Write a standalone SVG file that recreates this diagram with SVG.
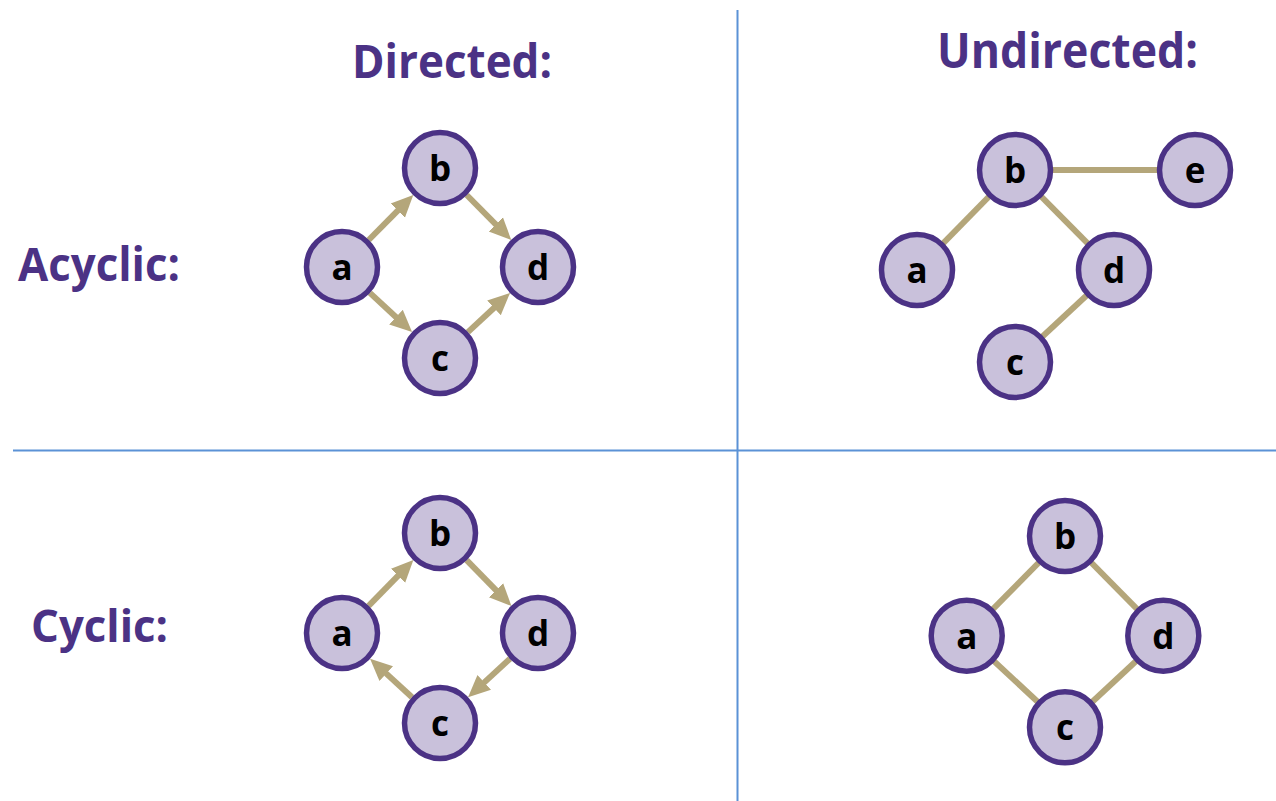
<svg xmlns="http://www.w3.org/2000/svg" width="1276" height="801" viewBox="0 0 1276 801">
<style>
.hdr{font-family:"Open Sans","Liberation Sans",sans-serif;font-weight:bold;fill:#4b3285}
.node circle{fill:#c9c1db;stroke:#4b3285;stroke-width:5.5}
.node text{font-family:"Open Sans","Liberation Sans",sans-serif;font-weight:bold;font-size:35px;fill:#000;text-anchor:middle}
.edge{stroke:#b4a67a;stroke-width:6;fill:none}
.arrow{stroke:#b4a67a;stroke-width:6;fill:none;marker-end:url(#ah)}
.div{stroke:#5b92d6;stroke-width:2}
</style>
<defs>
<marker id="ah" markerUnits="userSpaceOnUse" viewBox="0 -11 23 22" refX="1" refY="0" markerWidth="23" markerHeight="22" orient="auto">
<path d="M0,-10 L22,0 L0,10 z" fill="#b4a67a"/>
</marker>
</defs>
<rect width="1276" height="801" fill="#fff"/>
<g id="dividers">
<line class="div" x1="737.5" y1="10" x2="737.5" y2="801"/>
<line class="div" x1="13" y1="450.5" x2="1276" y2="450.5"/>
</g>
<g id="labels">
<text class="hdr" x="352" y="78" font-size="47" textLength="200" lengthAdjust="spacingAndGlyphs">Directed:</text>
<text class="hdr" x="937" y="68" font-size="49" textLength="261" lengthAdjust="spacingAndGlyphs">Undirected:</text>
<text class="hdr" x="18" y="281" font-size="46" textLength="162" lengthAdjust="spacingAndGlyphs">Acyclic:</text>
<text class="hdr" x="31" y="642" font-size="45" textLength="137" lengthAdjust="spacingAndGlyphs">Cyclic:</text>
</g>
<g id="connectors">
<line class="arrow" x1="368.7" y1="240.0" x2="398.5" y2="209.9"/>
<line class="arrow" x1="466.7" y1="195.0" x2="496.5" y2="225.1"/>
<line class="arrow" x1="369.9" y1="292.9" x2="396.7" y2="317.8"/>
<line class="arrow" x1="467.9" y1="332.1" x2="494.7" y2="307.2"/>
<line class="arrow" x1="368.6" y1="605.9" x2="398.7" y2="575.1"/>
<line class="arrow" x1="466.6" y1="560.1" x2="496.7" y2="590.9"/>
<line class="arrow" x1="510.0" y1="658.7" x2="483.5" y2="683.1"/>
<line class="arrow" x1="412.0" y1="697.3" x2="385.5" y2="672.9"/>
<line class="edge" x1="1015" y1="170" x2="1195" y2="170"/>
<line class="edge" x1="1015" y1="170" x2="917" y2="270"/>
<line class="edge" x1="1015" y1="170" x2="1114" y2="270"/>
<line class="edge" x1="1114" y1="270" x2="1015" y2="362"/>
<line class="edge" x1="966.7" y1="635.7" x2="1065" y2="536"/>
<line class="edge" x1="1065" y1="536" x2="1163.3" y2="635.7"/>
<line class="edge" x1="966.7" y1="635.7" x2="1065" y2="727.3"/>
<line class="edge" x1="1065" y1="727.3" x2="1163.3" y2="635.7"/>
</g>
<g id="tl-a" class="node"><circle cx="342" cy="267" r="35.5"/><text x="342" y="280">a</text></g>
<g id="tl-b" class="node"><circle cx="440" cy="168" r="35.5"/><text x="440" y="181">b</text></g>
<g id="tl-c" class="node"><circle cx="440" cy="358" r="35.5"/><text x="440" y="371">c</text></g>
<g id="tl-d" class="node"><circle cx="538" cy="267" r="35.5"/><text x="538" y="280">d</text></g>
<g id="bl-a" class="node"><circle cx="342" cy="633" r="35.5"/><text x="342" y="646">a</text></g>
<g id="bl-b" class="node"><circle cx="440" cy="533" r="35.5"/><text x="440" y="546">b</text></g>
<g id="bl-c" class="node"><circle cx="440" cy="723" r="35.5"/><text x="440" y="736">c</text></g>
<g id="bl-d" class="node"><circle cx="538" cy="633" r="35.5"/><text x="538" y="646">d</text></g>
<g id="tr-a" class="node"><circle cx="917" cy="270" r="35.5"/><text x="917" y="283">a</text></g>
<g id="tr-b" class="node"><circle cx="1015" cy="170" r="35.5"/><text x="1015" y="183">b</text></g>
<g id="tr-c" class="node"><circle cx="1015" cy="362" r="35.5"/><text x="1015" y="375">c</text></g>
<g id="tr-d" class="node"><circle cx="1114" cy="270" r="35.5"/><text x="1114" y="283">d</text></g>
<g id="tr-e" class="node"><circle cx="1195" cy="170" r="35.5"/><text x="1195" y="183">e</text></g>
<g id="br-a" class="node"><circle cx="966.7" cy="635.7" r="35.5"/><text x="966.7" y="648.7">a</text></g>
<g id="br-b" class="node"><circle cx="1065" cy="536" r="35.5"/><text x="1065" y="549">b</text></g>
<g id="br-c" class="node"><circle cx="1065" cy="727.3" r="35.5"/><text x="1065" y="740.3">c</text></g>
<g id="br-d" class="node"><circle cx="1163.3" cy="635.7" r="35.5"/><text x="1163.3" y="648.7">d</text></g>
</svg>
